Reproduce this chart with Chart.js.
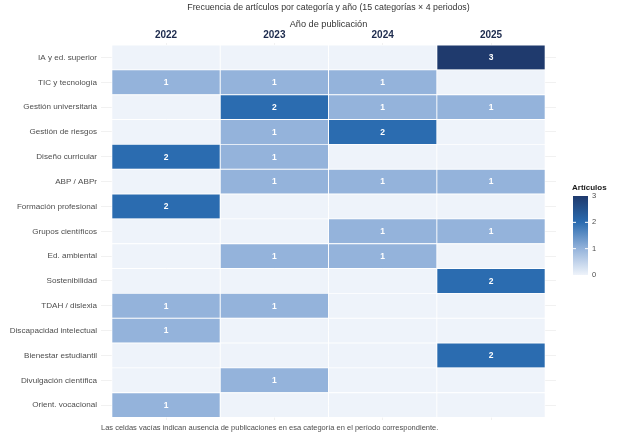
<!DOCTYPE html>
<html>
<head>
<meta charset="utf-8">
<script src="https://cdn.jsdelivr.net/npm/chart.js@4.4.1/dist/chart.umd.min.js"></script>
<style>
    html, body { margin: 0; padding: 0; background: #fff; }
    #wrap { width: 626px; height: 439px; }
</style>
</head>
<body>
<div id="wrap"><canvas id="heatmap"></canvas></div>
<script>
const categorias = [
    'IA y ed. superior', 'TIC y tecnología', 'Gestión universitaria', 'Gestión de riesgos',
    'Diseño curricular', 'ABP / ABPr', 'Formación profesional', 'Grupos científicos',
    'Ed. ambiental', 'Sostenibilidad', 'TDAH / dislexia', 'Discapacidad intelectual',
    'Bienestar estudiantil', 'Divulgación científica', 'Orient. vocacional'
];
const anios = ['2022', '2023', '2024', '2025'];
// artículos por categoría, una lista por año
const articulos2022 = [0, 1, 0, 0, 2, 0, 2, 0, 0, 0, 1, 1, 0, 0, 1];
const articulos2023 = [0, 1, 2, 1, 1, 1, 0, 0, 1, 0, 1, 0, 0, 1, 0];
const articulos2024 = [0, 1, 1, 2, 0, 1, 0, 1, 1, 0, 0, 0, 0, 0, 0];
const articulos2025 = [3, 0, 1, 0, 0, 1, 0, 1, 0, 2, 0, 0, 2, 0, 0];
const escalaTicks = [0, 1, 2, 3];

const columnas = [articulos2022, articulos2023, articulos2024, articulos2025];
const paleta = ['#eef3fa', '#94b3db', '#2b6cb0', '#1f3a6d'];
const fuente = '"Liberation Sans", Arial, sans-serif';

const datasets = columnas.map((valores, j) => ({
    label: anios[j],
    data: valores.map((v, i) => ({ x: [j, j + 1], y: i, v: v })),
    backgroundColor: ctx => paleta[ctx.raw ? ctx.raw.v : 0],
    borderColor: '#ffffff',
    borderWidth: 0.8,
    borderSkipped: false,
    grouped: false,
    barPercentage: 1,
    categoryPercentage: 1
}));

// números blancos dentro de las celdas con publicaciones
const etiquetasCeldas = {
    id: 'etiquetasCeldas',
    afterDatasetsDraw(chart) {
        const { ctx } = chart;
        ctx.save();
        ctx.font = `bold 8.5px ${fuente}`;
        ctx.fillStyle = '#ffffff';
        ctx.textAlign = 'center';
        ctx.textBaseline = 'middle';
        chart.data.datasets.forEach((ds, d) => {
            chart.getDatasetMeta(d).data.forEach((el, i) => {
                const v = ds.data[i].v;
                if (v > 0) {
                    const p = el.getCenterPoint();
                    ctx.fillText(String(v), p.x, p.y + 0.5);
                }
            });
        });
        ctx.restore();
    }
};

// barra de color a la derecha
const barraColor = {
    id: 'barraColor',
    afterDraw(chart) {
        const { ctx } = chart;
        const x0 = 573, w = 15, yTop = 196, yBot = 275;
        const max = escalaTicks[escalaTicks.length - 1];
        ctx.save();
        const grad = ctx.createLinearGradient(0, yBot, 0, yTop);
        paleta.forEach((c, k) => grad.addColorStop(k / (paleta.length - 1), c));
        ctx.fillStyle = grad;
        ctx.fillRect(x0, yTop, w, yBot - yTop);
        ctx.font = `bold 8px ${fuente}`;
        ctx.fillStyle = '#1a1a1a';
        ctx.textAlign = 'left';
        ctx.textBaseline = 'middle';
        ctx.fillText('Artículos', 572, 188);
        ctx.font = `7.5px ${fuente}`;
        ctx.fillStyle = '#4d4d4d';
        escalaTicks.forEach(t => {
            const y = yBot - (yBot - yTop) * t / max;
            if (t > 0 && t < max) {
                ctx.strokeStyle = '#ffffff';
                ctx.lineWidth = 1;
                ctx.beginPath();
                ctx.moveTo(x0, y); ctx.lineTo(x0 + 3, y);
                ctx.moveTo(x0 + w - 3, y); ctx.lineTo(x0 + w, y);
                ctx.stroke();
            }
            ctx.fillText(String(t), x0 + w + 4, y);
        });
        ctx.restore();
    }
};

new Chart(document.getElementById('heatmap'), {
    type: 'bar',
    data: { datasets: datasets },
    plugins: [etiquetasCeldas, barraColor],
    options: {
        indexAxis: 'y',
        responsive: true,
        maintainAspectRatio: false,
        animation: false,
        layout: { padding: { left: 0, right: 70, top: 0, bottom: 0 } },
        scales: {
            x: {
                type: 'linear',
                position: 'top',
                min: -0.1,
                max: 4.1,
                offset: false,
                afterBuildTicks: s => { s.ticks = anios.map((_, j) => ({ value: j + 0.5 })); },
                afterFit: s => { s.height = 28; },
                ticks: {
                    callback: (value, index) => anios[index],
                    font: { family: fuente, size: 10, weight: 'bold' },
                    color: '#1c2a4d',
                    padding: 1,
                    maxRotation: 0,
                    autoSkip: false
                },
                grid: { color: '#ebebeb', lineWidth: 0.7, drawTicks: false, offset: false },
                border: { display: false },
                title: {
                    display: true,
                    text: 'Año de publicación',
                    color: '#333333',
                    font: { family: fuente, size: 9.2 },
                    padding: { top: 4, bottom: 0 }
                }
            },
            y: {
                type: 'linear',
                reverse: true,
                min: -0.6,
                max: 14.6,
                offset: false,
                afterBuildTicks: s => { s.ticks = categorias.map((_, i) => ({ value: i })); },
                afterFit: s => { s.width = 101; },
                ticks: {
                    callback: (value, index) => categorias[index],
                    font: { family: fuente, size: 8.1 },
                    color: '#4d4d4d',
                    padding: 4,
                    autoSkip: false
                },
                grid: { color: '#ebebeb', lineWidth: 0.7, drawTicks: false, offset: false },
                border: { display: false }
            }
        },
        plugins: {
            legend: { display: false },
            tooltip: { enabled: false },
            title: {
                display: true,
                fullSize: false,
                text: 'Frecuencia de artículos por categoría y año (15 categorías × 4 periodos)',
                color: '#333333',
                font: { family: fuente, size: 8.8, weight: 'normal' },
                padding: { top: 2, bottom: 2 }
            },
            subtitle: {
                display: true,
                position: 'bottom',
                align: 'start',
                fullSize: false,
                text: 'Las celdas vacías indican ausencia de publicaciones en esa categoría en el período correspondiente.',
                color: '#4d4d4d',
                font: { family: fuente, size: 7.5 },
                padding: { top: 3, bottom: 7 }
            }
        }
    }
});
</script>
</body>
</html>
